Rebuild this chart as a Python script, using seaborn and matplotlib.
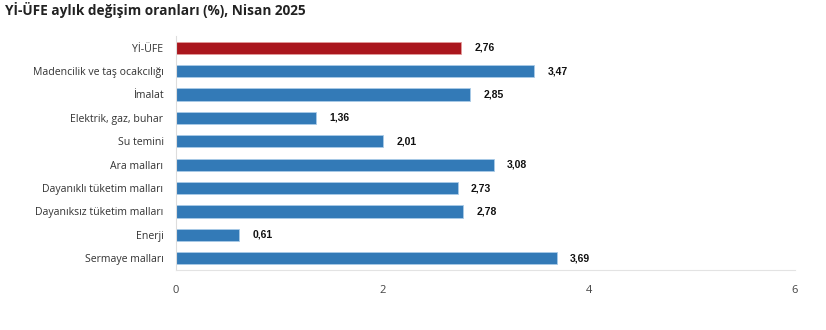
import matplotlib
matplotlib.use("Agg")
import matplotlib.pyplot as plt
import seaborn as sns
import pandas as pd

categories = ["Yİ-ÜFE", "Madencilik ve taş ocakcılığı", "İmalat", "Elektrik, gaz, buhar",
              "Su temini", "Ara malları", "Dayanıklı tüketim malları",
              "Dayanıksız tüketim malları", "Enerji", "Sermaye malları"]
values = [2.76, 3.47, 2.85, 1.36, 2.01, 3.08, 2.73, 2.78, 0.61, 3.69]
labels = ["2,76", "3,47", "2,85", "1,36", "2,01", "3,08", "2,73", "2,78", "0,61", "3,69"]
x_ticks = [0, 2, 4, 6]

sns.set_style("white")
plt.rcParams['font.family'] = ['Open Sans', 'DejaVu Sans']

df = pd.DataFrame({"cat": categories, "val": values})
palette = ["#AA161D"] + ["#337AB7"] * (len(categories) - 1)

fig = plt.figure(figsize=(8.26, 3.3), dpi=100)
ax = fig.add_axes([176/826, 1 - 270/330, (795-176)/826, (270-36)/330])
sns.barplot(data=df, y="cat", x="val", hue="cat", palette=palette, legend=False,
            saturation=1, orient="h", width=0.52, ax=ax, edgecolor="#a9cbe8", linewidth=0.6)
for i, p in enumerate(ax.patches):
    if i == 0:
        p.set_edgecolor("#e39a9a")

for i, (v, l) in enumerate(zip(values, labels)):
    ax.text(v + 0.13, i, l, va="center", ha="left", fontsize=7.5, fontweight="bold",
            family="Liberation Sans", color="#111111")

ax.set_xlim(0, 6)
ax.set_ylim(9.5, -0.5)
ax.set_xticks(x_ticks)
ax.set_xticklabels([str(t) for t in x_ticks], fontsize=8, color="#444444")
ax.tick_params(axis="x", length=0, pad=11)
ax.tick_params(axis="y", length=0, pad=9, labelsize=7.6, labelcolor="#333333")
ax.set_xlabel("")
ax.set_ylabel("")
for s in ["top", "right"]:
    ax.spines[s].set_visible(False)
ax.spines["left"].set_color("#dddddd")
ax.spines["bottom"].set_color("#e3e3e3")
ax.spines["left"].set_linewidth(0.8)
ax.spines["bottom"].set_linewidth(0.8)

fig.text(5/826, 1 - 10/330, "Yİ-ÜFE aylık değişim oranları (%), Nisan 2025",
         fontsize=9.8, fontweight="bold", ha="left", va="center", color="#222222")

fig.savefig("out.png", dpi=100)
